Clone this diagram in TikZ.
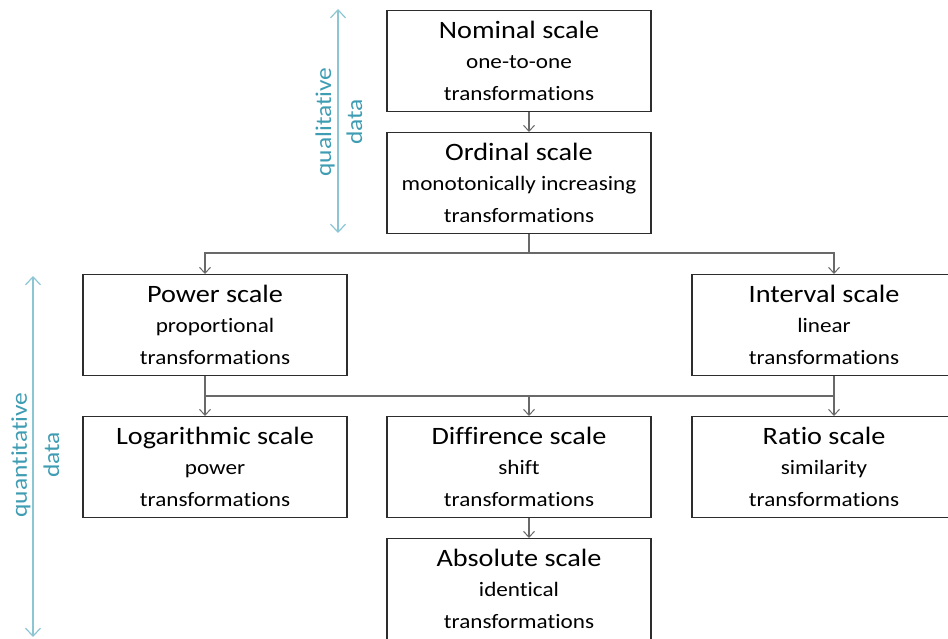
\documentclass[tikz,border=0pt]{standalone}
\usepackage{fontspec}
\setmainfont{Carlito}[FakeStretch=1.13, Ligatures={NoCommon}]
\usetikzlibrary{arrows.meta}

\definecolor{tealtext}{RGB}{62,157,179}
\definecolor{tealline}{RGB}{140,197,212}
\definecolor{boxline}{RGB}{45,45,45}
\definecolor{connline}{RGB}{105,105,105}

% one scale box: name, centre x, top y, title, first line, second line
\newcommand\scalenode[6]{%
  \node[scalebox] (#1) at (#2,#3) {};
  \node[titletext] (#1-t) at ([yshift=-28]#1.north) {#4};
  \node[subtext] (#1-a) at ([yshift=-58]#1.north) {#5};
  \node[subtext] (#1-b) at ([yshift=-90]#1.north) {#6};
}

\tikzset{
  scalebox/.style={draw=boxline, line width=1.4pt, fill=white,
    minimum width=264pt, minimum height=101pt, anchor=north, inner sep=0pt},
  titletext/.style={anchor=base, inner sep=0pt, font=\fontsize{25}{28}\selectfont},
  subtext/.style={anchor=base, inner sep=0pt, font=\fontsize{20.5}{24}\selectfont},
  wire/.style={draw=connline, line width=1.1pt},
  conn/.style={wire, -{Straight Barb[length=6pt,width=11pt,line width=1pt]}},
  span/.style={draw=tealline, line width=1.3pt,
    {Straight Barb[length=8pt,width=15pt,line width=1.2pt]}-{Straight Barb[length=8pt,width=15pt,line width=1.2pt]}},
  spanlabel/.style={anchor=base, rotate=90, inner sep=0pt, text=tealtext,
    font=\fontsize{22.5}{26}\selectfont},
}

\begin{document}
\begin{tikzpicture}[x=1pt, y=-1pt]
  \useasboundingbox[fill=white] (0,0) rectangle (948,638);

  % boxes
  \scalenode{nom}{519}{10}{Nominal scale}{one-to-one}{transformations}
  \scalenode{ord}{519}{132}{Ordinal scale}{monotonically increasing}{transformations}
  \scalenode{pow}{215}{274}{Power scale}{proportional}{transformations}
  \scalenode{int}{824}{274}{Interval scale}{linear}{transformations}
  \scalenode{log}{215}{416}{Logarithmic scale}{power}{transformations}
  \scalenode{dif}{519}{416}{Diffirence scale}{shift}{transformations}
  \scalenode{rat}{824}{416}{Ratio scale}{similarity}{transformations}
  \scalenode{abs}{519}{538}{Absolute scale}{identical}{transformations}

  % connectors
  \draw[conn] ([xshift=10]nom.south) -- ([xshift=10]ord.north);

  \coordinate (split1) at (529,253);
  \draw[wire] ([xshift=10]ord.south) -- (split1);
  \draw[conn] (split1) -| ([xshift=-10]pow.north);
  \draw[conn] (split1) -| ([xshift=10]int.north);

  \coordinate (split2) at (529,396);
  \coordinate (powout) at ([xshift=-10]pow.south);
  \coordinate (intout) at ([xshift=10]int.south);
  \draw[conn] (powout) -- ([xshift=-10]log.north);
  \draw[conn] (intout) -- ([xshift=10]rat.north);
  \draw[wire] (powout |- split2) -- (intout |- split2);
  \draw[conn] (split2) -- ([xshift=10]dif.north);

  \draw[conn] ([xshift=10]dif.south) -- ([xshift=10]abs.north);

  % qualitative span
  \coordinate (qlA) at (338,9);
  \coordinate (qlB) at (338,233);
  \draw[span] (qlA) -- (qlB);
  \node[spanlabel] (ql1) at (331,122) {qualitative};
  \node[spanlabel] (ql2) at (362,122) {data};

  % quantitative span
  \coordinate (qnA) at (33,276);
  \coordinate (qnB) at (33,637);
  \draw[span] (qnA) -- (qnB);
  \node[spanlabel] (qn1) at (27,455) {quantitative};
  \node[spanlabel] (qn2) at (59,455) {data};
\end{tikzpicture}
\end{document}
